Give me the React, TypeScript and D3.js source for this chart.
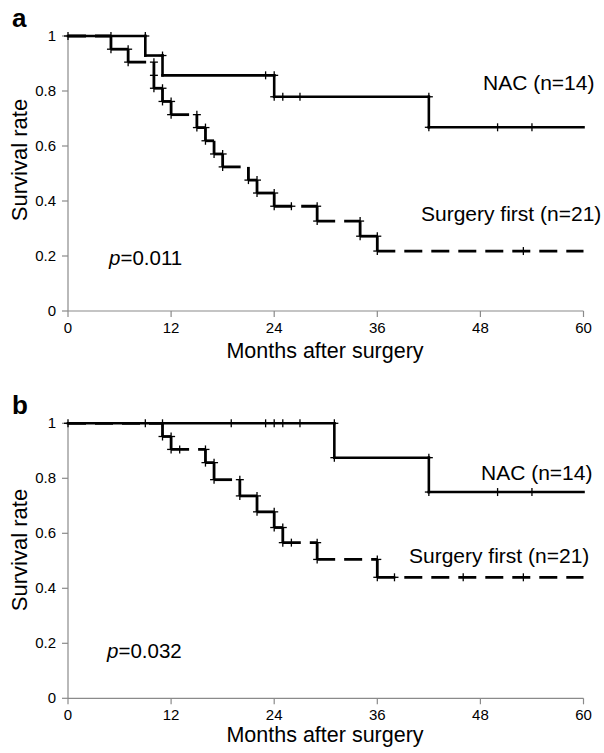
import React from "react";
import * as d3 from "d3";

// ---------- data ----------
const MONTH_TICKS = [0, 12, 24, 36, 48, 60];
const RATE_TICKS = [0, 0.2, 0.4, 0.6, 0.8, 1];
const RATE_LABELS = ["0", "0.2", "0.4", "0.6", "0.8", "1"];

// Panel a
const A_NAC_TIMES = [9, 11, 24, 42];
const A_NAC_SURV = [0.929, 0.857, 0.779, 0.668];
const A_NAC_MARKS: [number, number][] = [
  [0, 1], [5, 1], [9, 1], [11, 0.929], [23, 0.857], [24, 0.857], [24, 0.779],
  [25, 0.779], [27, 0.779], [42, 0.779], [42, 0.668], [50, 0.668], [54, 0.668],
];
const A_SURG_TIMES = [5, 7, 10, 10, 11, 12, 15, 16, 17, 18, 21, 22, 24, 29, 34, 36];
const A_SURG_SURV = [0.952, 0.905, 0.857, 0.81, 0.762, 0.714, 0.667, 0.619, 0.571, 0.524, 0.476, 0.429, 0.381, 0.327, 0.272, 0.218];
const A_SURG_MARKS: [number, number][] = [
  [5, 0.952], [7, 0.952], [7, 0.905], [10, 0.905], [10, 0.857], [10, 0.81], [11, 0.81],
  [11, 0.762], [12, 0.762], [12, 0.714], [15, 0.714], [15, 0.667], [16, 0.667],
  [16, 0.619], [17, 0.571], [18, 0.571], [18, 0.524], [21, 0.476], [22, 0.476],
  [22, 0.429], [24, 0.429], [24, 0.381], [26, 0.381], [29, 0.381], [29, 0.327],
  [34, 0.327], [34, 0.272], [36, 0.272], [36, 0.218], [53, 0.218],
];

// Panel b
const B_NAC_TIMES = [31, 42];
const B_NAC_SURV = [0.875, 0.75];
const B_NAC_MARKS: [number, number][] = [
  [0, 1], [9, 1], [11, 1], [19, 1], [23, 1], [24, 1], [25, 1], [27, 1], [31, 1],
  [31, 0.875], [42, 0.875], [42, 0.75], [50, 0.75], [54, 0.75],
];
const B_SURG_TIMES = [11, 12, 16, 17, 20, 22, 24, 25, 29, 36];
const B_SURG_SURV = [0.952, 0.905, 0.857, 0.795, 0.736, 0.678, 0.621, 0.566, 0.505, 0.44];
const B_SURG_MARKS: [number, number][] = [
  [11, 0.952], [12, 0.952], [12, 0.905], [13, 0.905], [16, 0.905], [16, 0.857],
  [17, 0.857], [17, 0.795], [20, 0.795], [20, 0.736], [22, 0.736], [22, 0.678],
  [24, 0.678], [24, 0.621], [25, 0.621], [25, 0.566], [26, 0.566], [29, 0.566],
  [29, 0.505], [36, 0.505], [36, 0.44], [38, 0.44], [46, 0.44], [53, 0.44],
];

const FONT = "'Liberation Sans', Arial, Helvetica, sans-serif";

type PanelProps = {
  top: number;
  letter: string;
  pText: string;
  nacTimes: number[];
  nacSurv: number[];
  nacMarks: [number, number][];
  surgTimes: number[];
  surgSurv: number[];
  surgMarks: [number, number][];
  nacLabelPos: [number, number];
  surgLabelPos: [number, number];
  pPos: [number, number];
  yLabelY: number;
  monthsY: number;
};

function stepSegments(times: number[], surv: number[]) {
  const segs: [number, number, number, number][] = [];
  let t = 0;
  let s = 1;
  times.forEach((tt, i) => {
    if (tt > t) segs.push([t, s, tt, s]);
    segs.push([tt, s, tt, surv[i]]);
    t = tt;
    s = surv[i];
  });
  segs.push([t, s, 60, s]);
  return segs;
}

function Panel(p: PanelProps) {
  const x = d3.scaleLinear().domain([0, 60]).range([68, 583.5]);
  const y = d3.scaleLinear().domain([0, 1]).range([p.top + 275, p.top]);
  const nacSegs = stepSegments(p.nacTimes, p.nacSurv);
  const surgSegs = stepSegments(p.surgTimes, p.surgSurv);
  const axisColor = "#8a8a8a";
  const cross = (m: [number, number], i: number) => (
    <g key={i} stroke="#000" strokeWidth={1.3}>
      <line x1={x(m[0]) - 4} x2={x(m[0]) + 4} y1={y(m[1])} y2={y(m[1])} />
      <line x1={x(m[0])} x2={x(m[0])} y1={y(m[1]) - 4} y2={y(m[1]) + 4} />
    </g>
  );
  return (
    <g>
      <text x={12} y={p.top - 9} fontFamily={FONT} fontWeight="bold" fontSize={26}>
        {p.letter}
      </text>
      <line x1={x(0)} x2={x(0)} y1={y(1)} y2={y(0)} stroke={axisColor} strokeWidth={1.2} />
      <line x1={x(0)} x2={x(60)} y1={y(0)} y2={y(0)} stroke={axisColor} strokeWidth={1.2} />
      {RATE_TICKS.map((v, i) => (
        <g key={"yt" + i}>
          <line x1={x(0) - 6} x2={x(0)} y1={y(v)} y2={y(v)} stroke={axisColor} strokeWidth={1.2} />
          <text x={56} y={y(v) + 5} textAnchor="end" fontFamily={FONT} fontSize={15}>
            {RATE_LABELS[i]}
          </text>
        </g>
      ))}
      {MONTH_TICKS.map((v) => (
        <g key={"xt" + v}>
          <line x1={x(v)} x2={x(v)} y1={y(0)} y2={y(0) + 6} stroke={axisColor} strokeWidth={1.2} />
          <text x={x(v)} y={y(0) + 22} textAnchor="middle" fontFamily={FONT} fontSize={15}>
            {v}
          </text>
        </g>
      ))}
      <text x={325} y={p.monthsY} textAnchor="middle" fontFamily={FONT} fontSize={21.5}>
        Months after surgery
      </text>
      <text
        transform={`translate(27,${p.yLabelY}) rotate(-90)`}
        textAnchor="middle"
        fontFamily={FONT}
        fontSize={22}
      >
        Survival rate
      </text>
      {nacSegs.map((s, i) => (
        <line
          key={"n" + i}
          x1={x(s[0])}
          y1={y(s[1])}
          x2={x(s[2])}
          y2={y(s[3])}
          stroke="#000"
          strokeWidth={2.6}
          strokeLinecap="square"
        />
      ))}
      {surgSegs.map((s, i) => (
        <line
          key={"s" + i}
          x1={x(s[0])}
          y1={y(s[1])}
          x2={x(s[2])}
          y2={y(s[3])}
          stroke="#000"
          strokeWidth={2.8}
          strokeDasharray="18,9"
        />
      ))}
      {p.nacMarks.map(cross)}
      {p.surgMarks.map(cross)}
      <text x={p.nacLabelPos[0]} y={p.nacLabelPos[1]} fontFamily={FONT} fontSize={21}>
        NAC (n=14)
      </text>
      <text x={p.surgLabelPos[0]} y={p.surgLabelPos[1]} fontFamily={FONT} fontSize={21}>
        Surgery first (n=21)
      </text>
      <text x={p.pPos[0]} y={p.pPos[1]} fontFamily={FONT} fontSize={20.5}>
        <tspan fontStyle="italic">p</tspan>
        {p.pText}
      </text>
    </g>
  );
}

export default function App() {
  return (
    <svg
      width={604}
      height={753}
      style={{ position: "absolute", left: 0, top: 0, background: "#fff" }}
    >
      <rect width={604} height={753} fill="#fff" />
      <Panel
        top={36}
        letter="a"
        pText="=0.011"
        nacTimes={A_NAC_TIMES}
        nacSurv={A_NAC_SURV}
        nacMarks={A_NAC_MARKS}
        surgTimes={A_SURG_TIMES}
        surgSurv={A_SURG_SURV}
        surgMarks={A_SURG_MARKS}
        nacLabelPos={[483, 90]}
        surgLabelPos={[421, 221]}
        pPos={[109, 265]}
        yLabelY={160}
        monthsY={358}
      />
      <Panel
        top={423.3}
        letter="b"
        pText="=0.032"
        nacTimes={B_NAC_TIMES}
        nacSurv={B_NAC_SURV}
        nacMarks={B_NAC_MARKS}
        surgTimes={B_SURG_TIMES}
        surgSurv={B_SURG_SURV}
        surgMarks={B_SURG_MARKS}
        nacLabelPos={[481, 480]}
        surgLabelPos={[409, 563]}
        pPos={[107, 658]}
        yLabelY={550}
        monthsY={742}
      />
    </svg>
  );
}
